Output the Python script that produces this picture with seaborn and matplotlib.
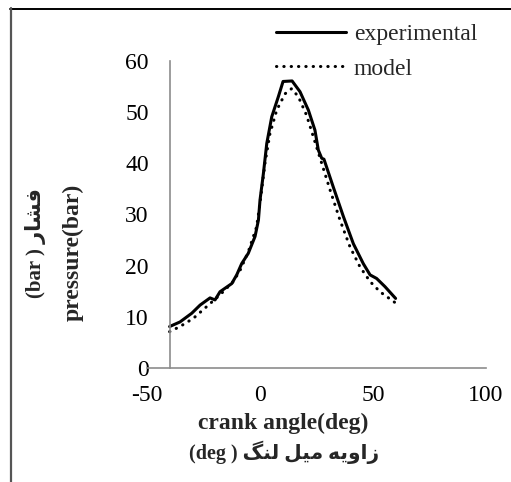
import numpy as np
import pandas as pd
import seaborn as sns
import matplotlib
matplotlib.use("Agg")
import matplotlib.pyplot as plt
from matplotlib.lines import Line2D

# ---- data ----
exp_angle = [-40, -35.4, -30.2, -26.5, -22.1, -19.9, -17.7, -12.5, -10.3, -8.1, -5.2, -2.2,
             -0.7, 0.0, 1.5, 3.0, 5.2, 8.1, 10.2, 14.2, 17.7, 21.4, 24.3, 25.8, 27.3, 28.3,
             32.4, 36.9, 41.3, 45.7, 48.7, 51.6, 55.3, 60.0]
exp_pressure = [8.1, 9.0, 10.7, 12.3, 13.7, 13.3, 14.9, 16.5, 18.2, 20.4, 22.4, 25.7,
                28.9, 32.8, 38.0, 43.9, 49.1, 53.0, 56.0, 56.1, 54.0, 50.4, 46.5, 42.6, 41.0, 40.8,
                35.4, 29.6, 24.3, 20.4, 18.2, 17.5, 15.9, 13.6]
model_angle = [-40, -35.4, -29.5, -23.6, -17.7, -11.8, -8.8, -5.2, -1.5, 0.0, 2.2, 4.4,
               7.4, 11.1, 14.0, 17.0, 20.6, 23.6, 27.3, 31.0, 35.4, 39.8, 44.2, 48.7, 53.1, 59.7]
model_pressure = [7.1, 8.1, 9.7, 12.0, 14.3, 16.9, 19.1, 22.7, 27.6, 32.2, 40.0, 45.8,
                  50.4, 53.6, 54.6, 53.0, 49.4, 45.2, 40.0, 34.8, 28.9, 23.7, 19.8, 16.9, 14.9, 12.8]
x_ticks = [-50, 0, 50, 100]
y_ticks = [0, 10, 20, 30, 40, 50, 60]
series_names = ["experimental", "model"]

# ---- Persian labels, pre-shaped (presentation forms, visual order) ----
w_zavie = "\uFEEA\uFBFE\uFEED\uFE8D\uFEAF"   # زاویه
w_mil = "\uFEDE\uFBFF\uFEE3"                 # میل
w_lang = "\uFB93\uFEE8\uFEDF"                # لنگ
w_feshar = "\uFEAD\uFE8E\uFEB8\uFED3"        # فشار
xlabel_fa = "(deg ) " + w_lang + " " + w_mil + " " + w_zavie
ylabel_fa = "(bar ) " + w_feshar
xlabel_en = "crank angle(deg)"
ylabel_en = "pressure(bar)"

sns.set_theme(style="white")
plt.rcParams["font.family"] = ["Liberation Serif", "DejaVu Sans"]
plt.rcParams["axes.unicode_minus"] = False

W, H = 511, 482
fig = plt.figure(figsize=(W / 100, H / 100), dpi=100)
fig.patch.set_facecolor("white")
ax = fig.add_axes([147 / W, 1 - 368 / H, 339 / W, 307 / H])
ax.set_facecolor("white")

df_exp = pd.DataFrame({"angle": exp_angle, "pressure": exp_pressure})
df_mod = pd.DataFrame({"angle": model_angle, "pressure": model_pressure})
sns.lineplot(data=df_exp, x="angle", y="pressure", ax=ax, color="black", lw=2.2,
             sort=False, label=series_names[0])
sns.lineplot(data=df_mod, x="angle", y="pressure", ax=ax, color="black", lw=2.2,
             sort=False, label=series_names[1], linestyle=(0, (0.1, 2.3)),
             dash_capstyle="round")

ax.set_xlim(-50, 100)
ax.set_ylim(0, 60)
ax.set_xticks(x_ticks)
ax.set_yticks(y_ticks)
ax.set_xlabel("")
ax.set_ylabel("")
for s in ["top", "right"]:
    ax.spines[s].set_visible(False)
ax.spines["left"].set_position(("data", -40))
for s in ["left", "bottom"]:
    ax.spines[s].set_color("#8c8c8c")
    ax.spines[s].set_linewidth(1.2)
ax.tick_params(axis="both", direction="in", length=7, width=1.2, color="#8c8c8c",
               labelsize=17, labelcolor="black")
ax.tick_params(axis="x", pad=12)
ax.tick_params(axis="y", pad=15)
ax.grid(False)

leg = ax.legend(loc="upper left", bbox_to_anchor=(276 / W, 1 - 23.5 / H),
                bbox_transform=fig.transFigure, frameon=False, fontsize=17,
                handlelength=2.95, handletextpad=0.35, labelspacing=0.55,
                borderpad=0, borderaxespad=0)

# axis titles
fig.text(283 / W, 1 - 423 / H, xlabel_en, ha="center", va="center",
         fontsize=17, fontweight="bold")
fig.text(284 / W, 1 - 452 / H, xlabel_fa, ha="center", va="center",
         fontsize=14.5, fontweight="bold")
fig.text(73 / W, 1 - 252 / H, ylabel_en, ha="center", va="center", rotation=90,
         fontsize=17, fontweight="bold")
fig.text(35 / W, 1 - 243 / H, ylabel_fa, ha="center", va="center", rotation=90,
         fontsize=15, fontweight="bold")

# outer frame
fig.add_artist(Line2D([10 / W, 1], [1 - 8.5 / H, 1 - 8.5 / H], transform=fig.transFigure,
                      color="black", lw=1.4))
fig.add_artist(Line2D([10.5 / W, 10.5 / W], [0, 1 - 8 / H], transform=fig.transFigure,
                      color="#555555", lw=1.6))

fig.savefig("out.png", dpi=100, facecolor="white")
